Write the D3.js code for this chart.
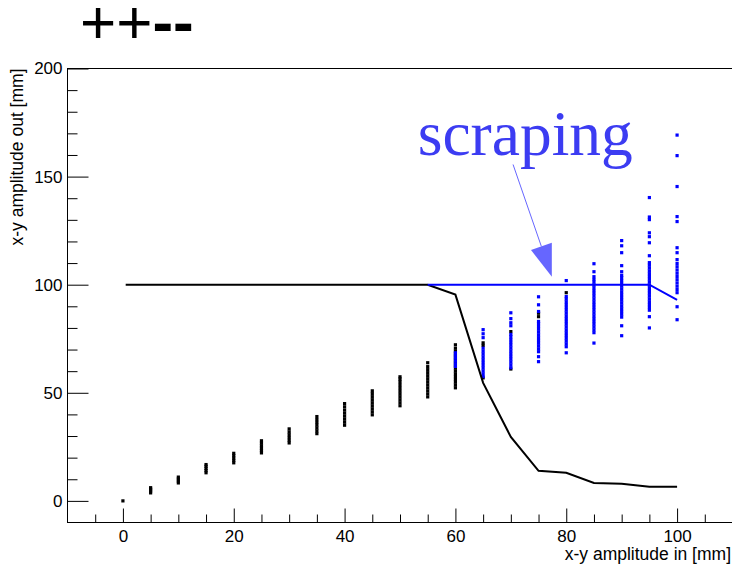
<!DOCTYPE html>
<html>
<head>
<meta charset="utf-8">
<script src="https://cdn.jsdelivr.net/npm/d3@7"></script>
<style>
  body { margin: 0; background: #fff; }
  svg { display: block; }
  text { font-family: "Liberation Sans", Arial, sans-serif; }
</style>
</head>
<body>
<div id="area"></div>
<script>
// amplitude in (x) for each column of points
var columnX = [0, 5, 10, 15, 20, 25, 30, 35, 40, 45, 50, 55, 60, 65, 70, 75, 80, 85, 90, 95, 100];

// amplitude out, particles that survive (black)
var blackY = [
  [0],
  [3.7, 4.6, 5.4, 6.1],
  [8.3, 9.2, 10.1, 11],
  [13, 14, 15, 16, 16.8],
  [17.6, 18.7, 19.8, 20.9, 22],
  [22.2, 23.3, 24.4, 25.5, 26.7, 27.8],
  [26.8, 28, 29.3, 30.6, 31.9, 33.3],
  [31.1, 32.4, 33.7, 35, 36.3, 37.6, 39],
  [35, 36.4, 37.8, 39.2, 40.6, 42, 43.5, 45],
  [39.8, 41.2, 42.6, 44, 45.4, 46.8, 48.2, 49.6, 50.9],
  [44, 45.4, 46.8, 48.2, 49.6, 51, 52.4, 53.8, 55.2, 56.4, 57.4],
  [48.1, 49.5, 50.9, 52.3, 53.7, 55.1, 56.5, 57.9, 59.3, 60.7, 62.1, 63.9],
  [52.3, 53.6, 54.9, 56.2, 57.5, 58.8, 60.1, 61.4, 62.7, 64, 65.3, 66.6, 67.9, 69.2, 70.6, 72.2],
  [56.9, 71.9, 73.1],
  [61, 78.3],
  [85.2, 86.8],
  [96.3],
  [], [], [], []
];

// amplitude out, scraped particles (blue)
var blueY = [
  [], [], [], [], [], [], [], [], [], [], [], [],
  [62.2, 63.4, 64.7, 66, 67.2, 68.5],
  [57.5, 58.8, 60.1, 61.4, 62.7, 64, 65.3, 66.6, 67.9, 69.2, 70.6, 75.5, 77.3, 79.2],
  [61.6, 62.9, 64.2, 65.5, 66.8, 68.1, 69.4, 70.7, 72, 73.3, 74.6, 75.9, 77, 81, 82.4, 84.3, 87],
  [64.4, 66.7, 69, 70.3, 71.6, 72.9, 74.2, 75.5, 76.8, 78.1, 79.4, 80.7, 82, 83, 87.6, 90.7, 94.4],
  [68.5, 71.3, 72.6, 73.9, 75.2, 76.5, 77.8, 79.1, 80.4, 81.7, 83, 84.3, 85.6, 86.9, 88.2, 89.5, 90.8, 92.1, 93.4, 94.5, 101.9],
  [73, 77.8, 79.1, 80.4, 81.7, 83, 84.3, 85.6, 86.9, 88.2, 89.5, 90.8, 92.1, 93.4, 94.7, 96, 97.3, 98.6, 99.9, 101.2, 102.4, 103.7, 106, 109.7],
  [76.4, 81, 85, 86.3, 87.6, 88.9, 90.2, 91.5, 92.8, 94.1, 95.4, 96.7, 98, 99.3, 100.6, 101.9, 103.2, 104.3, 106, 108.8, 114.8, 118, 120.4],
  [80, 85.2, 88.2, 89.5, 90.8, 92.1, 93.4, 94.7, 96, 97.3, 98.6, 99.9, 101.2, 102.5, 103.8, 105.1, 106.4, 107.7, 109, 110.2, 113.4, 119.4, 122.2, 124, 130.1, 131.3, 140.3],
  [83.8, 89.8, 96.3, 97.8, 99.3, 100.8, 102.3, 103.8, 105.3, 106.8, 108.3, 109.8, 111.6, 114.8, 117.1, 129.2, 131.5, 145.4, 159.7, 169.2]
];

// curves
var lineBlackX = [0.5, 55, 60, 65, 70, 75, 80, 85, 90, 95, 100];
var lineBlackY = [100, 100, 95.4, 54.6, 29.6, 13.9, 13, 8.3, 7.9, 6.5, 6.5];
var lineBlueX = [55, 60, 65, 70, 75, 80, 85, 90, 95, 100];
var lineBlueY = [100, 100, 100, 100, 100, 100, 100, 100, 100, 93];

// axes
var xMajor = [0, 20, 40, 60, 80, 100];
var xMinor = [-5, 5, 10, 15, 25, 30, 35, 45, 50, 55, 65, 70, 75, 85, 90, 95, 105];
var yMajor = [0, 50, 100, 150, 200];
var yMinor = [10, 20, 30, 40, 60, 70, 80, 90, 110, 120, 130, 140, 160, 170, 180, 190];

var W = 732, H = 565;
var m = {top: 68.5, left: 67.5, right: -0.5, bottom: 42.5};

var svg = d3.select('#area').append('svg')
  .attr('width', W)
  .attr('height', H);

var x = d3.scaleLinear()
  .domain([-10, 110])
  .range([m.left, W - m.right]);

var y = d3.scaleLinear()
  .domain([-10, 200])
  .range([H - m.bottom, m.top]);

// title
svg.append('text')
  .attr('x', 80)
  .attr('y', 43)
  .style('font-size', '62px')
  .text('++')
  .append('tspan')
  .style('font-weight', 'bold')
  .text('--');

// frame
svg.append('rect')
  .attr('x', m.left)
  .attr('y', m.top)
  .attr('width', W - m.right - m.left)
  .attr('height', H - m.bottom - m.top)
  .attr('fill', 'none')
  .attr('stroke', '#000')
  .attr('stroke-width', 1);

function styleAxis(g) {
  g.select('.domain').remove();
  g.selectAll('.tick line').attr('stroke', '#000');
  g.selectAll('.tick text')
    .attr('fill', '#000')
    .style('font-size', '17px')
    .style('font-family', '"Liberation Sans", Arial, sans-serif');
}

svg.append('g')
  .attr('transform', 'translate(0,' + (H - m.bottom) + ')')
  .call(d3.axisBottom(x).tickValues(xMajor).tickSize(-14).tickPadding(7).tickFormat(d3.format('d')))
  .call(styleAxis);

svg.append('g')
  .attr('transform', 'translate(0,' + (H - m.bottom) + ')')
  .call(d3.axisBottom(x).tickValues(xMinor).tickSize(-8).tickFormat(''))
  .call(styleAxis);

svg.append('g')
  .attr('transform', 'translate(' + m.left + ',0)')
  .call(d3.axisLeft(y).tickValues(yMajor).tickSize(-21).tickPadding(5).tickFormat(d3.format('d')))
  .call(styleAxis);

svg.append('g')
  .attr('transform', 'translate(' + m.left + ',0)')
  .call(d3.axisLeft(y).tickValues(yMinor).tickSize(-10).tickFormat(''))
  .call(styleAxis);

// axis titles
svg.append('text')
  .attr('x', 731)
  .attr('y', 560)
  .attr('text-anchor', 'end')
  .style('font-size', '17.5px')
  .text('x-y amplitude in [mm]');

svg.append('text')
  .attr('transform', 'translate(23,' + m.top + ') rotate(-90)')
  .attr('text-anchor', 'end')
  .style('font-size', '17.5px')
  .text('x-y amplitude out [mm]');

// flatten the columns into points
function toPoints(cols) {
  var pts = [];
  cols.forEach(function(col, i) {
    col.forEach(function(v) { pts.push({x: columnX[i], y: v}); });
  });
  return pts;
}

var plot = svg.append('g');

plot.selectAll('.pblack')
  .data(toPoints(blackY))
  .enter().append('rect')
  .attr('class', 'pblack')
  .attr('x', function(d) { return x(d.x) - 1.6; })
  .attr('y', function(d) { return y(d.y) - 1.6; })
  .attr('width', 3.2)
  .attr('height', 3.2)
  .attr('fill', '#000');

plot.selectAll('.pblue')
  .data(toPoints(blueY))
  .enter().append('rect')
  .attr('class', 'pblue')
  .attr('x', function(d) { return x(d.x) - 1.6; })
  .attr('y', function(d) { return y(d.y) - 1.6; })
  .attr('width', 3.2)
  .attr('height', 3.2)
  .attr('fill', '#0000ff');

var line = d3.line()
  .x(function(d) { return x(d[0]); })
  .y(function(d) { return y(d[1]); });

plot.append('path')
  .datum(lineBlackX.map(function(v, i) { return [v, lineBlackY[i]]; }))
  .attr('d', line)
  .attr('fill', 'none')
  .attr('stroke', '#000')
  .attr('stroke-width', 2);

plot.append('path')
  .datum(lineBlueX.map(function(v, i) { return [v, lineBlueY[i]]; }))
  .attr('d', line)
  .attr('fill', 'none')
  .attr('stroke', '#0000ff')
  .attr('stroke-width', 2);

// annotation
var labelPos = [53.2, 160];
var arrowFrom = [70.4, 155.6], arrowTo = [77.4, 103.7];

svg.append('text')
  .attr('x', x(labelPos[0]))
  .attr('y', y(labelPos[1]))
  .attr('fill', '#3c3cf2')
  .style('font-family', '"Liberation Serif", "Times New Roman", serif')
  .style('font-size', '63.5px')
  .text('scraping');

var x1 = x(arrowFrom[0]), y1 = y(arrowFrom[1]);
var x2 = x(arrowTo[0]), y2 = y(arrowTo[1]);
var len = Math.sqrt((x2 - x1) * (x2 - x1) + (y2 - y1) * (y2 - y1));
var ux = (x2 - x1) / len, uy = (y2 - y1) / len;
var hl = 32, hw = 11;
var bx = x2 - ux * hl, by = y2 - uy * hl;

svg.append('line')
  .attr('x1', x1).attr('y1', y1)
  .attr('x2', bx).attr('y2', by)
  .attr('stroke', '#6666ff')
  .attr('stroke-width', 1);

svg.append('path')
  .attr('d', 'M' + x2 + ',' + y2 +
    'L' + (bx + uy * hw) + ',' + (by - ux * hw) +
    'L' + (bx - uy * hw) + ',' + (by + ux * hw) + 'Z')
  .attr('fill', '#6666ff');
</script>
</body>
</html>
